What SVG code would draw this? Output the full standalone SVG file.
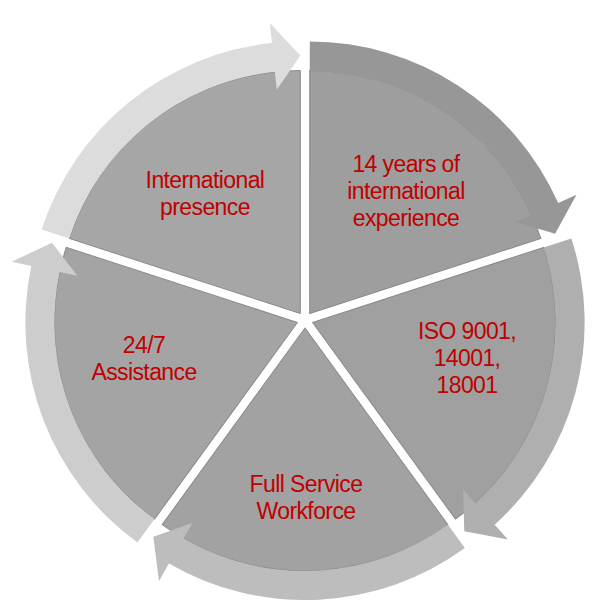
<svg xmlns="http://www.w3.org/2000/svg" width="600" height="604" viewBox="0 0 600 604">
<style>
.sec{stroke:#8a8a8a;stroke-width:1}
.t{font-family:"Liberation Sans",Arial,sans-serif;font-size:23px;fill:#c00000;text-anchor:middle;letter-spacing:-0.6px}
</style>
<defs>
<linearGradient id="s" x1="0" y1="0" x2="0" y2="1"><stop offset="0" stop-color="#b0b0b0"/><stop offset="1" stop-color="#949494"/></linearGradient>
<path id="sector" d="M0,0 L-231.1,-75.1 A243,243 0 0 1 0,-243 Z"/>
<path id="ring" d="M-258.7,-84.1 A272,272 0 0 1 -28.4,-270.5 L-30.5,-290.4 L0,-258 L-23.5,-223.8 L-25.4,-241.7 A243,243 0 0 0 -231.1,-75.1 Z"/>
</defs>
<rect width="600" height="604" fill="#fff"/>
<g id="w1" transform="translate(305,320) translate(-4.7,-6.5)">
<use href="#sector" class="sec" fill="#a6a6a6"/><use href="#ring" fill="#dcdcdc"/></g>
<g id="w2" transform="translate(305,320) rotate(72) translate(-4.7,-6.5)">
<use href="#sector" class="sec" fill="#9e9e9e"/><use href="#ring" fill="#979797"/></g>
<g id="w3" transform="translate(305,320) rotate(144) translate(-4.7,-6.5)">
<use href="#sector" class="sec" fill="#a0a0a0"/><use href="#ring" fill="#afafaf"/></g>
<g id="w4" transform="translate(305,320) rotate(216) translate(-4.7,-6.5)">
<use href="#sector" class="sec" fill="#a2a2a2"/><use href="#ring" fill="#bdbdbd"/></g>
<g id="w5" transform="translate(305,320) rotate(288) translate(-4.7,-6.5)">
<use href="#sector" class="sec" fill="#a4a4a4"/><use href="#ring" fill="#cdcdcd"/></g>
<g id="labels">
<text class="t" x="205" y="188">International</text>
<text class="t" x="205" y="215">presence</text>
<text class="t" x="406" y="172">14 years of</text>
<text class="t" x="406" y="199">international</text>
<text class="t" x="406" y="226">experience</text>
<text class="t" x="467" y="339">ISO 9001,</text>
<text class="t" x="467" y="366">14001,</text>
<text class="t" x="467" y="393">18001</text>
<text class="t" x="144" y="353">24/7</text>
<text class="t" x="144" y="380">Assistance</text>
<text class="t" x="306" y="492">Full Service</text>
<text class="t" x="306" y="519">Workforce</text>
</g>
<g id="connectors"/>
</svg>
